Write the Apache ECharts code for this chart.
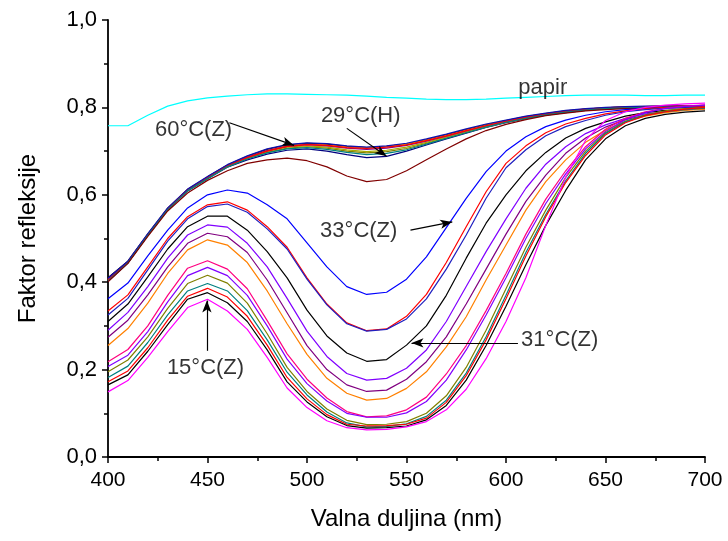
<!DOCTYPE html>
<html>
<head>
<meta charset="utf-8">
<script src="https://cdn.jsdelivr.net/npm/echarts@6/dist/echarts.min.js"></script>
<style>
html,body{margin:0;padding:0;background:#fff;}
#chart{width:728px;height:541px;}
</style>
</head>
<body>
<div id="chart"></div>
<script>
// ---- data ----
const wavelengths = [400,410,420,430,440,450,460,470,480,490,500,510,520,530,540,550,560,570,580,590,600,610,620,630,640,650,660,670,680,690,700];
const xTicks = [400,450,500,550,600,650,700];
const yTicks = [0.0,0.2,0.4,0.6,0.8,1.0];

// top cluster (heated samples)
const k1 = [0.402,0.444,0.507,0.566,0.609,0.637,0.663,0.680,0.693,0.702,0.705,0.700,0.692,0.685,0.688,0.700,0.714,0.728,0.741,0.754,0.765,0.774,0.782,0.788,0.793,0.797,0.799,0.800,0.801,0.801,0.801];
const k2 = [0.410,0.448,0.510,0.569,0.612,0.641,0.668,0.688,0.704,0.714,0.718,0.716,0.711,0.708,0.711,0.716,0.726,0.737,0.749,0.760,0.770,0.779,0.786,0.792,0.796,0.799,0.801,0.802,0.803,0.803,0.803];
const k3 = [0.404,0.445,0.508,0.567,0.610,0.638,0.664,0.683,0.697,0.707,0.710,0.707,0.700,0.696,0.699,0.706,0.718,0.730,0.743,0.755,0.766,0.775,0.783,0.789,0.794,0.797,0.799,0.800,0.801,0.801,0.801];
const k4 = [0.406,0.446,0.509,0.568,0.611,0.639,0.665,0.684,0.699,0.709,0.712,0.709,0.703,0.699,0.702,0.709,0.720,0.732,0.744,0.756,0.767,0.776,0.784,0.790,0.795,0.798,0.800,0.801,0.802,0.802,0.802];
const k5 = [0.407,0.447,0.510,0.569,0.612,0.640,0.667,0.687,0.702,0.712,0.716,0.714,0.710,0.708,0.711,0.716,0.725,0.736,0.748,0.759,0.769,0.778,0.786,0.791,0.796,0.799,0.801,0.802,0.803,0.803,0.803];
const k6 = [0.408,0.447,0.509,0.568,0.611,0.640,0.666,0.686,0.701,0.711,0.715,0.712,0.707,0.704,0.707,0.713,0.723,0.734,0.746,0.758,0.768,0.777,0.785,0.791,0.795,0.798,0.800,0.801,0.802,0.802,0.802];
const k7 = [0.405,0.446,0.509,0.568,0.611,0.639,0.666,0.685,0.700,0.711,0.715,0.713,0.708,0.706,0.709,0.714,0.724,0.735,0.747,0.758,0.768,0.777,0.785,0.791,0.796,0.799,0.801,0.802,0.803,0.803,0.803];
const k8 = [0.409,0.448,0.511,0.570,0.613,0.642,0.669,0.689,0.705,0.715,0.719,0.717,0.712,0.709,0.712,0.718,0.728,0.739,0.751,0.762,0.771,0.780,0.787,0.793,0.797,0.800,0.802,0.803,0.803,0.803,0.803];
const k9 = [0.403,0.444,0.507,0.566,0.609,0.637,0.664,0.682,0.696,0.705,0.708,0.704,0.697,0.692,0.695,0.703,0.716,0.729,0.742,0.755,0.766,0.775,0.783,0.789,0.794,0.797,0.799,0.800,0.801,0.801,0.801];
const wine = [0.401,0.443,0.505,0.563,0.604,0.633,0.655,0.672,0.680,0.684,0.678,0.664,0.643,0.630,0.635,0.655,0.680,0.705,0.728,0.747,0.761,0.772,0.781,0.787,0.792,0.795,0.797,0.798,0.799,0.799,0.799];

// lower group
const blue33 = [0.362,0.398,0.460,0.519,0.570,0.600,0.611,0.604,0.577,0.545,0.490,0.435,0.390,0.372,0.377,0.407,0.458,0.525,0.592,0.653,0.700,0.733,0.756,0.771,0.782,0.790,0.795,0.798,0.800,0.801,0.801];
const redA = [0.334,0.371,0.435,0.500,0.550,0.577,0.584,0.565,0.527,0.480,0.410,0.350,0.307,0.289,0.293,0.322,0.372,0.445,0.527,0.607,0.672,0.712,0.742,0.762,0.775,0.785,0.792,0.797,0.800,0.801,0.802];
const royal = [0.325,0.363,0.428,0.494,0.545,0.573,0.579,0.560,0.522,0.476,0.407,0.348,0.305,0.288,0.292,0.316,0.362,0.430,0.508,0.592,0.662,0.703,0.735,0.756,0.770,0.782,0.790,0.795,0.798,0.800,0.800];
const black31 = [0.310,0.350,0.412,0.476,0.527,0.551,0.551,0.519,0.470,0.410,0.336,0.277,0.238,0.219,0.223,0.256,0.300,0.370,0.455,0.535,0.600,0.655,0.697,0.730,0.752,0.767,0.780,0.788,0.793,0.795,0.797];
const violetA = [0.290,0.331,0.390,0.455,0.508,0.531,0.526,0.489,0.435,0.363,0.288,0.230,0.191,0.176,0.180,0.203,0.245,0.310,0.390,0.470,0.545,0.615,0.670,0.710,0.740,0.760,0.775,0.785,0.790,0.795,0.797];
const purpleA = [0.274,0.313,0.371,0.435,0.489,0.512,0.504,0.468,0.405,0.330,0.255,0.200,0.165,0.150,0.153,0.178,0.218,0.275,0.350,0.430,0.510,0.585,0.645,0.695,0.730,0.755,0.772,0.782,0.790,0.795,0.797];
const orangeA = [0.255,0.294,0.352,0.420,0.474,0.497,0.485,0.445,0.380,0.305,0.235,0.180,0.146,0.130,0.134,0.157,0.195,0.252,0.321,0.405,0.485,0.565,0.630,0.680,0.720,0.748,0.768,0.780,0.788,0.793,0.796];
const pinkA = [0.218,0.246,0.300,0.370,0.432,0.449,0.430,0.385,0.312,0.236,0.178,0.135,0.104,0.092,0.094,0.108,0.137,0.190,0.255,0.335,0.420,0.510,0.590,0.655,0.710,0.750,0.775,0.790,0.798,0.803,0.806];
const violetB = [0.207,0.233,0.287,0.355,0.415,0.434,0.415,0.370,0.300,0.224,0.168,0.128,0.100,0.091,0.091,0.101,0.127,0.176,0.245,0.325,0.410,0.500,0.580,0.648,0.705,0.745,0.772,0.788,0.797,0.802,0.805];
const oliveA = [0.195,0.222,0.275,0.340,0.397,0.416,0.398,0.352,0.282,0.205,0.150,0.110,0.084,0.074,0.075,0.081,0.100,0.140,0.205,0.290,0.385,0.480,0.565,0.640,0.700,0.742,0.768,0.783,0.792,0.797,0.800];
const tealA = [0.182,0.208,0.262,0.325,0.380,0.397,0.380,0.335,0.268,0.194,0.142,0.103,0.078,0.069,0.070,0.076,0.093,0.130,0.192,0.275,0.370,0.468,0.555,0.632,0.695,0.740,0.767,0.782,0.790,0.795,0.798];
const redB = [0.172,0.197,0.250,0.313,0.368,0.386,0.366,0.322,0.256,0.182,0.133,0.097,0.075,0.071,0.072,0.075,0.089,0.125,0.186,0.268,0.362,0.460,0.550,0.628,0.690,0.737,0.765,0.781,0.790,0.796,0.800];
const blackB = [0.165,0.188,0.242,0.303,0.361,0.376,0.353,0.310,0.245,0.172,0.126,0.092,0.072,0.066,0.067,0.071,0.085,0.118,0.176,0.255,0.345,0.440,0.530,0.610,0.680,0.728,0.758,0.775,0.784,0.789,0.792];
const magenta15 = [0.149,0.175,0.228,0.287,0.342,0.361,0.334,0.292,0.228,0.158,0.113,0.083,0.067,0.062,0.063,0.069,0.081,0.108,0.155,0.225,0.310,0.410,0.530,0.640,0.725,0.770,0.790,0.800,0.805,0.808,0.810];

// paper
const papir = [0.758,0.758,0.782,0.803,0.815,0.822,0.826,0.829,0.831,0.831,0.830,0.829,0.828,0.826,0.823,0.821,0.819,0.818,0.818,0.819,0.821,0.823,0.825,0.827,0.828,0.828,0.828,0.827,0.827,0.828,0.828];

const curveNames = ['k1','k2','k3','k4','k5','k6','k7','k8','k9','wine','blue33','redA','royal','black31','violetA','purpleA','orangeA','pinkA','violetB','oliveA','tealA','redB','blackB','magenta15','papir'];
const curveData = [k1,k2,k3,k4,k5,k6,k7,k8,k9,wine,blue33,redA,royal,black31,violetA,purpleA,orangeA,pinkA,violetB,oliveA,tealA,redB,blackB,magenta15,papir];

// annotations: [text, x, y]
const labelTexts = ['papir','60°C(Z)','29°C(H)','33°C(Z)','31°C(Z)','15°C(Z)'];
const labelX = [618.5, 443, 527, 526, 627, 449];
const labelY = [0.844, 0.748, 0.780, 0.517, 0.268, 0.204];
// arrows: from (x1,y1) to (x2,y2)
const arrowFrom = [[461,0.765],[520,0.752],[552,0.519],[606,0.261],[449.7,0.243]];
const arrowTo   = [[493.5,0.713],[540,0.688],[573,0.538],[552.5,0.261],[449.7,0.358]];

// ---- styles ----
const colors = ['#000080','#000000','#808000','#a8a800','#ff8000','#800080','#ff0000','#1010b0','#008080','#800000',
                '#0000ff','#ff0000','#2020c0','#000000','#8000ff','#800080','#ff8000','#ff0080','#8000ff','#808000','#008080','#ff0000','#000000','#ff00ff','#00ffff'];
const FONT = "'Liberation Sans', Arial, sans-serif";

const series = curveData.map((arr, i) => ({
  name: curveNames[i],
  type: 'line',
  data: wavelengths.map((w, j) => [w, arr[j]]),
  showSymbol: false,
  symbol: 'none',
  smooth: false,
  lineStyle: { color: colors[i], width: 1.2 },
  itemStyle: { color: colors[i] },
  animation: false,
  silent: true,
  z: 2
}));

series.push({
  name: 'labels',
  type: 'scatter',
  symbolSize: 0,
  silent: true,
  animation: false,
  z: 5,
  data: labelTexts.map((t, i) => ({ name: t, value: [labelX[i], labelY[i]] })),
  label: {
    show: true, position: 'inside', formatter: p => p.name,
    color: '#000', fontFamily: FONT, fontSize: 22
  },
  markLine: {
    silent: true,
    animation: false,
    symbol: ['none', 'arrow'],
    symbolSize: [7, 12],
    label: { show: false },
    lineStyle: { color: '#000', width: 1.2, type: 'solid' },
    emphasis: { disabled: true },
    data: arrowFrom.map((f, i) => [
      { coord: f, symbol: 'none' },
      { coord: arrowTo[i], symbol: 'arrow', symbolSize: [7, 12] }
    ])
  }
});

const chart = echarts.init(document.getElementById('chart'), null, { renderer: 'canvas' });
chart.setOption({
  animation: false,
  backgroundColor: '#fff',
  grid: { left: 108, right: 23, top: 20, bottom: 84, containLabel: false },
  xAxis: {
    type: 'value', min: xTicks[0], max: xTicks[xTicks.length - 1], interval: 50,
    name: 'Valna duljina (nm)', nameLocation: 'middle', nameGap: 50,
    nameTextStyle: { fontFamily: FONT, fontSize: 24, color: '#000' },
    axisLine: { show: true, onZero: false, lineStyle: { color: '#000', width: 1.8 } },
    axisTick: { show: true, inside: false, length: 6, lineStyle: { color: '#000', width: 1.5 } },
    minorTick: { show: true, splitNumber: 2, length: 4, lineStyle: { color: '#000', width: 1.5 } },
    axisLabel: { fontFamily: FONT, fontSize: 21, color: '#000', margin: 13 },
    splitLine: { show: false }
  },
  yAxis: {
    type: 'value', min: yTicks[0], max: yTicks[yTicks.length - 1], interval: 0.2,
    name: 'Faktor refleksije', nameLocation: 'middle', nameGap: 68, nameRotate: 90,
    nameTextStyle: { fontFamily: FONT, fontSize: 24, color: '#000' },
    axisLine: { show: true, onZero: false, lineStyle: { color: '#000', width: 1.8 } },
    axisTick: { show: true, inside: false, length: 6, lineStyle: { color: '#000', width: 1.5 } },
    minorTick: { show: true, splitNumber: 2, length: 4, lineStyle: { color: '#000', width: 1.5 } },
    axisLabel: { fontFamily: FONT, fontSize: 22, color: '#000', margin: 11,
      formatter: v => v.toFixed(1).replace('.', ',') },
    splitLine: { show: false }
  },
  series: series
});
</script>
</body>
</html>
